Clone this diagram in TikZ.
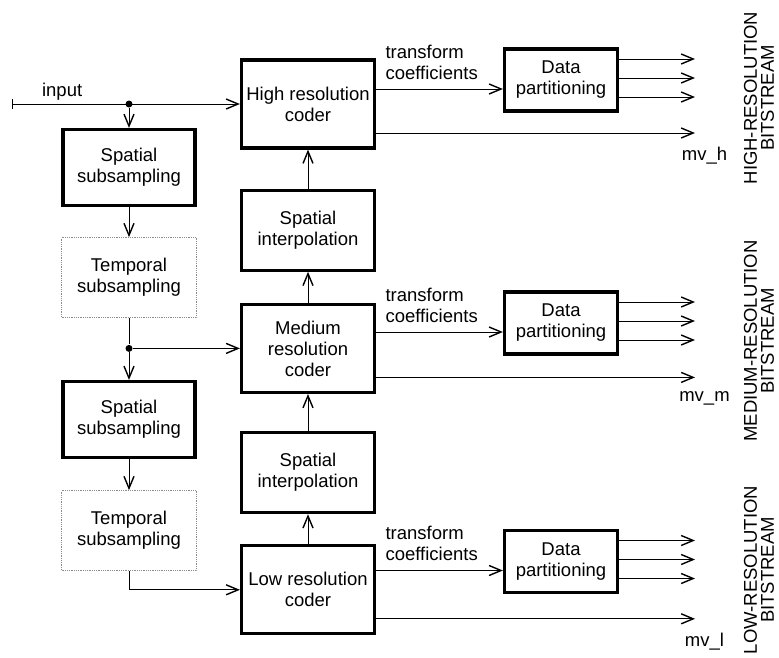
\documentclass[tikz,border=0pt]{standalone}
\usepackage{fontspec}
\setmainfont{Liberation Sans}
\usetikzlibrary{positioning,arrows.meta,calc}
\definecolor{dotGray}{HTML}{8C8C8C}

\begin{document}
\begin{tikzpicture}[x=1pt, y=1pt, >={Straight Barb[length=12pt,width=10pt,line width=1.4pt]},
          font=\fontsize{18.5}{21}\selectfont, line width=1pt,
          sub/.style={draw, line width=3.2pt, minimum width=132pt, minimum height=76pt, align=center, inner sep=0pt},
          temp/.style={draw=dotGray, densely dotted, line width=0.8pt, minimum width=135pt, minimum height=80pt, align=center, inner sep=0pt},
          coder/.style={draw, line width=3.2pt, minimum width=133pt, minimum height=88pt, align=center, inner sep=0pt},
          interp/.style={coder, minimum height=80pt},
          part/.style={draw, line width=3.2pt, minimum width=113pt, minimum height=62pt, align=center, inner sep=0pt},
          junc/.style={circle, fill, inner sep=0pt, minimum size=7pt},
          stream/.style={rotate=90, align=center, font=\fontsize{18.5}{17}\selectfont}]
        \useasboundingbox (0,0) rectangle (779,-657);
        \node[coder] (hcoder) at (308,-104) {High resolution\\coder};
        \node[interp, below=39pt of hcoder] (interp1) {Spatial\\interpolation};
        \node[coder, below=31pt of interp1] (mcoder) {Medium\\resolution\\coder};
        \node[interp, below=37pt of mcoder] (interp2) {Spatial\\interpolation};
        \node[coder, below=30pt of interp2] (lcoder) {Low resolution\\coder};
        \node[sub] (ss1) at (129,-167.5) {Spatial\\subsampling};
        \node[temp, below=30pt of ss1] (ts1) {Temporal\\subsampling};
        \node[sub, below=62pt of ts1] (ss2) {Spatial\\subsampling};
        \node[temp, below=31pt of ss2] (ts2) {Temporal\\subsampling};
        \node[part] (dp1) at (561,-80) {Data\\partitioning};
        \node[part] (dp2) at (561,-323) {Data\\partitioning};
        \node[part] (dp3) at (561,-561.5) {Data\\partitioning};
        \node[junc] (j1) at (ss1.north |- hcoder.west) {};
        \node[junc] (j2) at (ss1.north |- mcoder.west) {};
        \node[stream] (hbs) at (759,-98) {HIGH-RESOLUTION\\BITSTREAM};
        \node[stream] (mbs) at (759,-341) {MEDIUM-RESOLUTION\\BITSTREAM};
        \node[stream] (lbs) at (759,-570) {LOW-RESOLUTION\\BITSTREAM};
        \coordinate (in) at (12,-104);
        \coordinate (outx) at (695,0);
        \draw[{Bar[width=10pt]}->] (in) -- (hcoder.west) node[pos=0.22, above, inner sep=3pt] {input};
        \draw[->] (j1) -- (ss1);
        \draw[->] (ss1) -- (ts1);
        \draw (ts1) -- (j2);
        \draw[->] (j2) -- (ss2);
        \draw[->] (j2) -- (mcoder.west);
        \draw[->] (ss2) -- (ts2);
        \draw[->] (ts2.south) |- (lcoder.west);
        \foreach \a/\b in {lcoder/interp2, interp2/mcoder, mcoder/interp1, interp1/hcoder} {
          \draw[->] (\a) -- (\b);
        }
        \foreach \c/\d/\m in {hcoder/dp1/h, mcoder/dp2/m, lcoder/dp3/l} {
          \coordinate (tc\m) at ($(\d.west)+(0,-9)$);
          \draw[->] (\c.east |- tc\m) -- (tc\m)
            node[pos=0, above right, align=left, inner sep=2pt, xshift=7pt, yshift=7pt] {transform\\coefficients};
          \foreach \o in {21,2,-17} {
            \draw[->] ($(\d.east)+(0,\o)$) -- ($(outx |- \d.east)+(0,\o)$);
          }
          \draw[->] ($(\c.east)+(0,-29)$) coordinate (mv\m) -- (mv\m -| outx)
            node[below, inner sep=2pt, xshift=9.5pt, yshift=-12pt] {mv\_\m};
        }
      \end{tikzpicture}
\end{document}
